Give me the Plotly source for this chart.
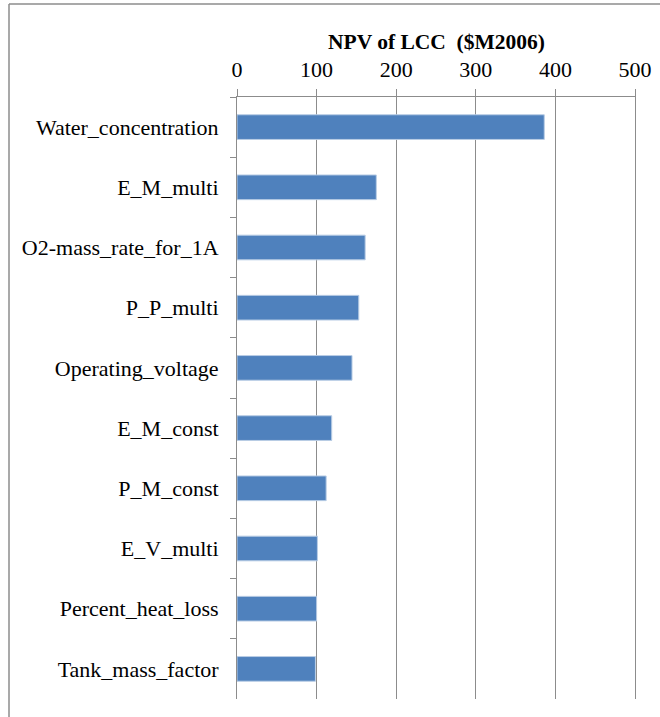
import plotly.graph_objects as go

categories = ["Water_concentration", "E_M_multi", "O2-mass_rate_for_1A", "P_P_multi",
              "Operating_voltage", "E_M_const", "P_M_const", "E_V_multi",
              "Percent_heat_loss", "Tank_mass_factor"]
values = [386, 175, 161, 153, 144.5, 119, 112, 101, 100, 98.5]
x_ticks = [0, 100, 200, 300, 400, 500]
title_text = "NPV of LCC  ($M2006)"

W, H = 660, 717
L, R, T, B = 237, 25, 97, 18
pw = W - L - R
ph = H - T - B

def px(x):
    return (x - L) / pw

def py(y):
    return 1 - (y - T) / ph

font = "Liberation Serif, Times New Roman, serif"
FS = 22

fig = go.Figure(go.Bar(
    y=categories, x=values, orientation="h",
    marker=dict(color="#4F81BD", line=dict(color="#B9CDE5", width=1)),
    width=0.41,
))

fig.update_layout(
    width=W, height=H,
    margin=dict(l=L, r=R, t=T, b=B, autoexpand=False),
    paper_bgcolor="white", plot_bgcolor="white",
    showlegend=False,
    font=dict(family=font, size=FS, color="black"),
    xaxis=dict(side="top", range=[0, 500], tickvals=x_ticks, showgrid=True,
               gridcolor="#8C8C8C", gridwidth=1, zeroline=False,
               showline=True, linecolor="#8C8C8C", linewidth=1,
               ticks="outside", ticklen=7, tickcolor="#8C8C8C",
               ticklabelstandoff=3, tickfont=dict(size=FS), automargin=False),
    yaxis=dict(autorange="reversed", showline=True, linecolor="#8C8C8C", linewidth=1,
               mirror=True,
               ticks="outside", tickson="boundaries", ticklen=6, tickcolor="#8C8C8C",
               showgrid=False, tickfont=dict(size=FS), ticklabelstandoff=13,
               automargin=False),
    bargap=0.59,
)

fig.add_annotation(text="<b>" + title_text + "</b>", xref="paper", yref="paper",
                   x=0.5, y=py(42), xanchor="center", yanchor="middle",
                   showarrow=False, font=dict(family=font, size=21.5, color="black"))

# outer chart border (left and top edges visible)
fig.add_shape(type="line", xref="paper", yref="paper",
              x0=px(9), y0=py(4), x1=px(W + 5), y1=py(4),
              line=dict(color="#8C8C8C", width=1.5))
fig.add_shape(type="line", xref="paper", yref="paper",
              x0=px(9), y0=py(4), x1=px(9), y1=py(H + 5),
              line=dict(color="#8C8C8C", width=1.5))

fig.write_html("out.html", config={"displayModeBar": False},
               post_script="document.body.style.margin='0';document.body.style.overflow='hidden';")
